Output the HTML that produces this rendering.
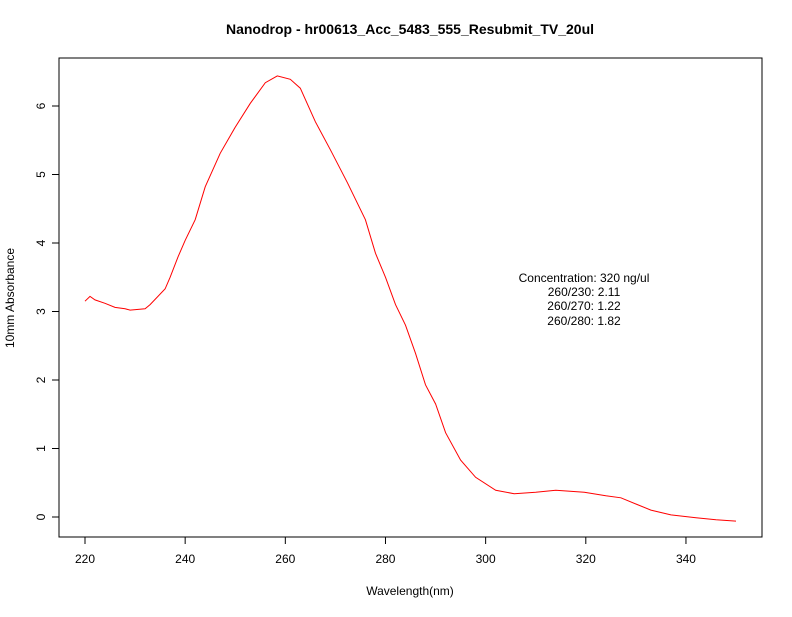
<!DOCTYPE html>
<html><head><meta charset="utf-8"><style>
body{margin:0;background:#fff;}
svg text{font-family:"Liberation Sans",sans-serif;}
</style></head><body>
<svg id="chart" width="792" height="612">
<rect width="792" height="612" fill="#fff"/>
<text x="410" y="34" font-size="14" font-weight="bold" text-anchor="middle">Nanodrop - hr00613_Acc_5483_555_Resubmit_TV_20ul</text>
<rect x="59" y="58" width="703" height="479" fill="none" stroke="#000"/>
<g id="xaxis"></g>
<g id="yaxis"></g>
<text x="410" y="595" font-size="12" text-anchor="middle">Wavelength(nm)</text>
<text x="14" y="298" font-size="12" text-anchor="middle" transform="rotate(-90 14 298)">10mm Absorbance</text>
<path id="curve" fill="none" stroke="#ff0000" stroke-width="1"/>
<g font-size="12" text-anchor="middle">
<text x="584" y="282">Concentration: 320 ng/ul</text>
<text x="584" y="296">260/230: 2.11</text>
<text x="584" y="310">260/270: 1.22</text>
<text x="584" y="325">260/280: 1.82</text>
</g>
</svg>
<script>
const wavelengths=[220,221,222,224,226,228,229,232,233,236,237,238.6,240,242,244,247,250,253,256,258.4,261,263,266,269,272.4,276,278,280,282,284,286,288,290,292,295,298,302,305.7,310,314,319.7,324,327,330,333,337,342,346,350];
const absorbance=[3.15,3.22,3.17,3.12,3.06,3.04,3.02,3.04,3.1,3.33,3.5,3.8,4.04,4.34,4.82,5.31,5.69,6.04,6.34,6.44,6.39,6.26,5.77,5.36,4.88,4.34,3.85,3.5,3.1,2.8,2.39,1.93,1.65,1.23,0.83,0.58,0.39,0.34,0.36,0.39,0.36,0.31,0.28,0.19,0.10,0.03,-0.01,-0.04,-0.06];
const xTicks=[220,240,260,280,300,320,340];
const yTicks=[0,1,2,3,4,5,6];
const X=v=>85+(v-220)*5.008;
const Y=v=>517-v*68.5;
const NS='http://www.w3.org/2000/svg';
const xa=document.getElementById('xaxis'),ya=document.getElementById('yaxis');
function mk(tag,attrs,parent,txt){const e=document.createElementNS(NS,tag);for(const k in attrs)e.setAttribute(k,attrs[k]);if(txt!==undefined)e.textContent=txt;parent.appendChild(e);return e;}
mk('line',{x1:X(220),x2:X(340),y1:537,y2:537,stroke:'#000'},xa);
xTicks.forEach(t=>{mk('line',{x1:X(t),x2:X(t),y1:537,y2:544,stroke:'#000'},xa);
const l=mk('text',{x:X(t),y:563,'font-size':12,'text-anchor':'middle'},xa,t);

});
mk('line',{x1:59,x2:59,y1:Y(0),y2:Y(6),stroke:'#000'},ya);
yTicks.forEach(t=>{mk('line',{x1:52,x2:59,y1:Y(t),y2:Y(t),stroke:'#000'},ya);
const l=mk('text',{x:42,y:Y(t),'font-size':12,'text-anchor':'middle',transform:`rotate(-90 42 ${Y(t)})`,'dominant-baseline':'middle'},ya,t);

});
document.getElementById('curve').setAttribute('d',wavelengths.map((w,i)=>(i?'L':'M')+X(w).toFixed(1)+','+Y(absorbance[i]).toFixed(1)).join(''));
</script>
</body></html>
